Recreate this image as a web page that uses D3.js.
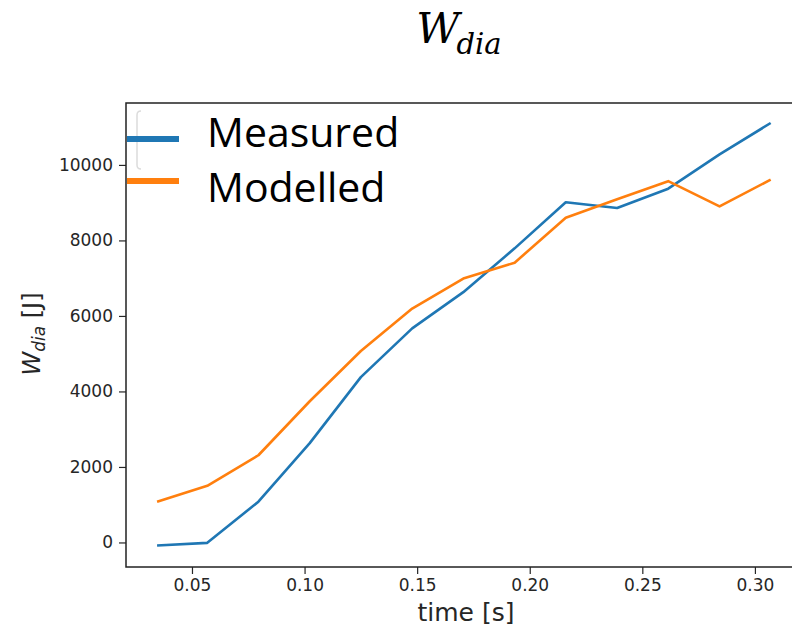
<!DOCTYPE html>
<html>
<head>
<meta charset="utf-8">
<script src="https://cdn.jsdelivr.net/npm/d3@7"></script>
<style>
  body { margin: 0; background: #fff; }
  svg { display: block; }
  .tick text { font-family: "DejaVu Sans", sans-serif; font-size: 17px; fill: #262626; }
  .tick line { stroke: #262626; stroke-width: 1.2; }
  .domain { stroke: none; }
</style>
</head>
<body>
<script>
// sample times (s)
var times = [0.0345, 0.0568, 0.0795, 0.1023, 0.1250, 0.1478, 0.1705, 0.1933, 0.2160, 0.2388, 0.2615, 0.2843, 0.3070];
// W_dia values (J)
var measured = [-80, -10, 1080, 2630, 4380, 5670, 6630, 7790, 9010, 8860, 9370, 10280, 11110];
var modelled = [1080, 1500, 2310, 3740, 5070, 6195, 6990, 7410, 8600, 9090, 9570, 8900, 9610];
var xTicks = [0.05, 0.10, 0.15, 0.20, 0.25, 0.30];
var yTicks = [0, 2000, 4000, 6000, 8000, 10000];
var seriesNames = ["Measured", "Modelled"];
var colors = ["#1f77b4", "#ff7f0e"];

var W = 792, H = 627;
var m = {left: 126, top: 103, right: 804, bottom: 567};

var svg = d3.select("body").append("svg").attr("width", W).attr("height", H);

var x = d3.scaleLinear().domain([0.0207, 0.3218]).range([m.left, m.right]);
var y = d3.scaleLinear().domain([-650, 11640]).range([m.bottom, m.top]);

// axes
svg.append("g")
    .attr("transform", "translate(0," + m.bottom + ")")
    .call(d3.axisBottom(x).tickValues(xTicks).tickFormat(d3.format(".2f")).tickSize(7).tickPadding(5));

svg.append("g")
    .attr("transform", "translate(" + m.left + ",0)")
    .call(d3.axisLeft(y).tickValues(yTicks).tickFormat(d3.format("d")).tickSize(7).tickPadding(6));

// lines
var line = d3.line()
    .x(function (d, i) { return x(times[i]); })
    .y(function (d) { return y(d); });

[measured, modelled].forEach(function (s, k) {
    svg.append("path")
        .datum(s)
        .attr("d", line)
        .attr("fill", "none")
        .attr("stroke", colors[k])
        .attr("stroke-width", 2.6)
        .attr("stroke-linejoin", "round");
});

// frame
svg.append("rect")
    .attr("x", m.left).attr("y", m.top)
    .attr("width", m.right - m.left).attr("height", m.bottom - m.top)
    .attr("fill", "none").attr("stroke", "#222").attr("stroke-width", 1.5);

// faint legend frame edge
svg.append("path")
    .attr("d", "M141,111 Q137,111 137,115 L137,165 Q137,169 141,169")
    .attr("fill", "none").attr("stroke", "#dcdcdc").attr("stroke-width", 1.5);

// legend
var legY = [139, 181];
seriesNames.forEach(function (name, k) {
    svg.append("line")
        .attr("x1", 127).attr("x2", 179)
        .attr("y1", legY[k]).attr("y2", legY[k])
        .attr("stroke", colors[k]).attr("stroke-width", 6);
    svg.append("text")
        .attr("x", 207).attr("y", legY[k] + 8 + (k === 0 ? 0 : 13))
        .style("font-family", "'Open Sans', sans-serif")
        .style("font-size", "41px")
        .attr("fill", "#000")
        .text(name);
});

// title
var title = svg.append("text")
    .attr("x", 459).attr("y", 43)
    .attr("text-anchor", "middle")
    .style("font-family", "'DejaVu Serif', serif")
    .style("font-style", "italic")
    .style("font-size", "42px")
    .attr("fill", "#000");
title.append("tspan").text("W");
title.append("tspan").attr("dy", 11).attr("dx", -3).style("font-size", "29px").text("dia");

// axis labels
svg.append("text")
    .attr("x", 466).attr("y", 621)
    .attr("text-anchor", "middle")
    .style("font-family", "'DejaVu Sans', sans-serif")
    .style("font-size", "25px")
    .attr("fill", "#262626")
    .text("time [s]");

var yl = svg.append("text")
    .attr("transform", "translate(40,334) rotate(-90)")
    .attr("text-anchor", "middle")
    .style("font-family", "'DejaVu Sans', sans-serif")
    .style("font-size", "24px")
    .attr("fill", "#262626");
yl.append("tspan").style("font-style", "italic").text("W");
yl.append("tspan").attr("dy", 5).style("font-size", "17px").style("font-style", "italic").text("dia");
yl.append("tspan").attr("dy", -5).text(" [J]");
</script>
</body>
</html>
